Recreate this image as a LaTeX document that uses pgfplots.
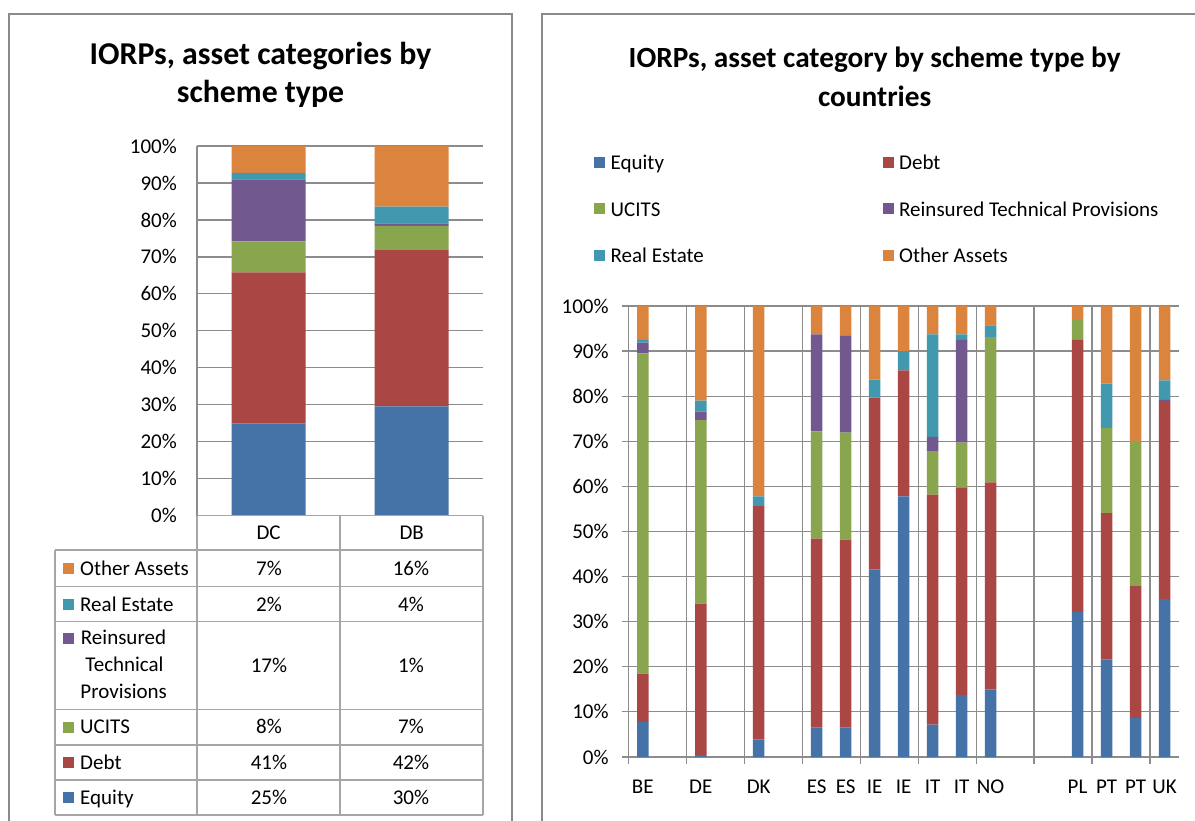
\documentclass[border=0pt]{standalone}
\usepackage{fontspec}
\setmainfont{Carlito}
\usepackage{pgfplots}
\pgfplotsset{compat=1.18}
\usepackage{pgfplotstable}

\definecolor{cEq}{HTML}{4572A7}
\definecolor{cDe}{HTML}{AA4643}
\definecolor{cUc}{HTML}{89A54E}
\definecolor{cRt}{HTML}{71588F}
\definecolor{cRe}{HTML}{4198AF}
\definecolor{cOt}{HTML}{DB843D}
\definecolor{gridc}{HTML}{8C8C8C}
\definecolor{framec}{HTML}{8A8A8A}
\definecolor{tabc}{HTML}{A6A6A6}

\newcommand\rf{\fontsize{21bp}{25bp}\selectfont}
\newcommand\tfl{\fontsize{31.8bp}{38bp}\selectfont\bfseries}
\newcommand\tfr{\fontsize{29.3bp}{38bp}\selectfont\bfseries}

% scheme type: DC, DB
\pgfplotstableread{
x eq de uc rt re ot
0 25.0 40.8 8.4 16.8 1.7 7.3
1 29.6 42.2 6.6 0.7 4.5 16.4
}\scheme

% countries (slot positions)
\pgfplotstableread{
x eq de uc rt re ot
0 7.8 10.7 71.0 2.4 0.6 7.5
2 0.4 33.6 40.7 1.9 2.4 21.0
4 3.9 51.7 0 0 2.2 42.2
6 6.5 41.9 23.8 21.5 0 6.3
7 6.5 41.7 23.7 21.5 0 6.6
8 41.6 38.1 0 0 4.0 16.3
9 57.8 27.9 0 0 4.3 10.0
10 7.2 51.0 9.6 3.2 22.7 6.3
11 13.8 45.9 10.0 22.8 1.2 6.3
12 15.0 45.9 32.2 0 2.6 4.3
15 32.2 60.3 4.4 0 0 3.1
16 21.6 32.5 18.8 0 9.9 17.2
17 8.7 29.2 32.0 0 0 30.1
18 35.0 43.9 0 0.3 4.3 16.5
}\country

\begin{document}
\begin{tikzpicture}
\useasboundingbox (0,0) rectangle (1195bp,821bp);

% ---------------- left chart ----------------
\begin{axis}[
  at={(197bp,305.3bp)}, anchor=south west, scale only axis,
  width=286.3bp, height=369.7bp,
  ybar stacked, bar width=74bp,
  xmin=-0.5, xmax=1.5, ymin=0, ymax=100,
  xtick={0,1}, xticklabels={DC,DB},
  ytick={0,10,...,100},
  yticklabel={\pgfmathprintnumber{\tick}\%},
  axis lines*=left,
  axis line style={gridc, line width=1.2bp},
  x axis line style={draw=none},
  ymajorgrids, grid style={gridc, line width=1.2bp},
  major tick length=0pt,
  tick label style={font=\rf},
  /pgf/number format/assume math mode=true,
  yticklabel style={anchor=east, inner sep=0pt, xshift=-20bp},
  xticklabel style={anchor=center, inner sep=0pt, yshift=-17.3bp},
  clip=false,
]
\addplot[fill=cEq, draw=none] table[x=x,y=eq]{\scheme};
\addplot[fill=cDe, draw=none] table[x=x,y=de]{\scheme};
\addplot[fill=cUc, draw=none] table[x=x,y=uc]{\scheme};
\addplot[fill=cRt, draw=none] table[x=x,y=rt]{\scheme};
\addplot[fill=cRe, draw=none] table[x=x,y=re]{\scheme};
\addplot[fill=cOt, draw=none] table[x=x,y=ot]{\scheme};
\end{axis}

% ---------------- right chart ----------------
\begin{axis}[
  at={(628.3bp,64bp)}, anchor=south west, scale only axis,
  width=550.7bp, height=451bp,
  ybar stacked, bar width=11.5bp,
  xmin=-0.5, xmax=18.5, ymin=0, ymax=100,
  xtick={-0.5,1.5,...,17.5}, xticklabels={},
  extra x ticks={0,2,4,6,7,8,9,10,11,12,15,16,17,18},
  extra x tick labels={BE,DE,DK,ES,ES,IE,IE,IT,IT,NO,PL,PT,PT,UK},
  extra x tick style={grid=none, major tick length=0pt,
     xticklabel style={anchor=north, inner sep=0pt, yshift=-23bp}},
  ytick={0,10,...,100},
  yticklabel={\pgfmathprintnumber{\tick}\%},
  axis lines*=left,
  axis line style={gridc, line width=1.2bp},
  xmajorgrids, ymajorgrids, grid style={gridc, line width=1.2bp},
  tick align=outside, major tick length=6.5bp,
  tick style={gridc, line width=1.2bp},
  tick label style={font=\rf},
  /pgf/number format/assume math mode=true,
  yticklabel style={anchor=east, inner sep=0pt, xshift=-13bp},
  legend columns=2,
  legend style={draw=none, fill=none, inner sep=0pt, outer sep=0pt,
     at={(-0.0616,1.3326)}, anchor=north west, font=\rf,
     row sep=28.5bp,
     cells={anchor=base west},
     nodes={inner sep=0pt, text height=14bp, text depth=4bp},
     /tikz/every odd column/.style={column sep=5.3bp},
     /tikz/every even column/.style={column sep=0pt}},
  legend image code/.code={\fill[#1] (0bp,2bp) rectangle (11bp,13bp);},
  clip=false,
]
\addplot[fill=cEq, draw=none] table[x=x,y=eq]{\country};
\addlegendentry{\makebox[272.2bp][l]{Equity}}
\addplot[fill=cDe, draw=none] table[x=x,y=de]{\country};
\addlegendentry{Debt}
\addplot[fill=cUc, draw=none] table[x=x,y=uc]{\country};
\addlegendentry{\makebox[272.2bp][l]{UCITS}}
\addplot[fill=cRt, draw=none] table[x=x,y=rt]{\country};
\addlegendentry{Reinsured Technical Provisions}
\addplot[fill=cRe, draw=none] table[x=x,y=re]{\country};
\addlegendentry{\makebox[272.2bp][l]{Real Estate}}
\addplot[fill=cOt, draw=none] table[x=x,y=ot]{\country};
\addlegendentry{Other Assets}
\end{axis}

% ---------------- frames, titles, data table (pixel coordinates) ----------------
\begin{scope}[yshift=821bp, x=1bp, y=-1bp]
  \draw[framec, line width=2bp] (8.6,830) -- (8.6,14) -- (512.3,14) -- (512.3,830);
  \draw[framec, line width=2bp] (542,830) -- (542,14) -- (1200,14);

  \node[font=\tfl, anchor=base] at (260.5,65) {IORPs, asset categories by};
  \node[font=\tfl, anchor=base] at (260.5,103) {scheme type};
  \node[font=\tfr, anchor=base] at (874.7,68) {IORPs, asset category by scheme type by};
  \node[font=\tfr, anchor=base] at (874.7,107) {countries};

  % table grid
  \begin{scope}[tabc, line width=1.5bp]
    \draw (197,515.7) -- (483,515.7);
    \foreach \yy in {550,586.7,621.7,709.3,745,780,815} \draw (55,\yy) -- (483,\yy);
    \draw (55,550) -- (55,815);
    \foreach \xx in {197,340,483} \draw (\xx,515.7) -- (\xx,815);
  \end{scope}

  % rows
  \fill[cOt] (63,563.3) rectangle (74,574.3);
  \node[font=\rf, anchor=base west, inner sep=0pt] at (80,575.3) {Other Assets};
  \node[font=\rf, anchor=base, inner sep=0pt] at (269,575.3) {7\%};
  \node[font=\rf, anchor=base, inner sep=0pt] at (411,575.3) {16\%};

  \fill[cRe] (63,599.2) rectangle (74,610.2);
  \node[font=\rf, anchor=base west, inner sep=0pt] at (80,611.2) {Real Estate};
  \node[font=\rf, anchor=base, inner sep=0pt] at (269,611.2) {2\%};
  \node[font=\rf, anchor=base, inner sep=0pt] at (411,611.2) {4\%};

  \fill[cRt] (63,633) rectangle (74,644);
  \node[font=\rf, anchor=base, inner sep=0pt] at (123.5,645) {Reinsured};
  \node[font=\rf, anchor=base, inner sep=0pt] at (124.5,672) {Technical};
  \node[font=\rf, anchor=base, inner sep=0pt] at (123.7,698.5) {Provisions};
  \node[font=\rf, anchor=base, inner sep=0pt] at (269,672.5) {17\%};
  \node[font=\rf, anchor=base, inner sep=0pt] at (411,672.5) {1\%};

  \fill[cUc] (63,722) rectangle (74,733);
  \node[font=\rf, anchor=base west, inner sep=0pt] at (80,734) {UCITS};
  \node[font=\rf, anchor=base, inner sep=0pt] at (269,734) {8\%};
  \node[font=\rf, anchor=base, inner sep=0pt] at (411,734) {7\%};

  \fill[cDe] (63,757.5) rectangle (74,768.5);
  \node[font=\rf, anchor=base west, inner sep=0pt] at (80,769.5) {Debt};
  \node[font=\rf, anchor=base, inner sep=0pt] at (269,769.5) {41\%};
  \node[font=\rf, anchor=base, inner sep=0pt] at (411,769.5) {42\%};

  \fill[cEq] (63,792.5) rectangle (74,803.5);
  \node[font=\rf, anchor=base west, inner sep=0pt] at (80,804.5) {Equity};
  \node[font=\rf, anchor=base, inner sep=0pt] at (269,804.5) {25\%};
  \node[font=\rf, anchor=base, inner sep=0pt] at (411,804.5) {30\%};
\end{scope}
\end{tikzpicture}
\end{document}
